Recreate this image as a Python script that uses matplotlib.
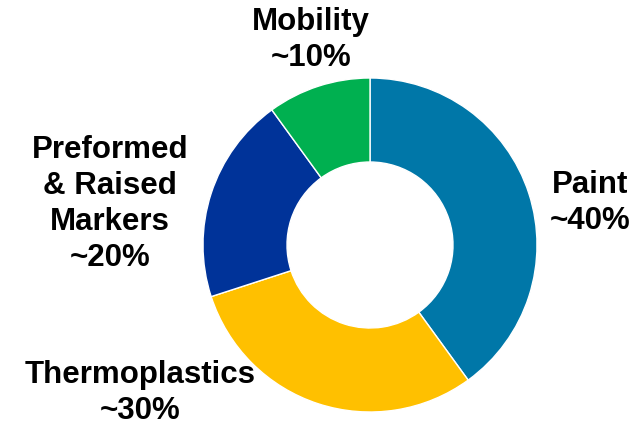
import matplotlib.pyplot as plt

segments = ['Paint', 'Thermoplastics', 'Preformed\n& Raised\nMarkers', 'Mobility']
shares = [40, 30, 20, 10]
colors = ['#0077A8', '#FFC000', '#003399', '#00B050']

plt.rcParams['font.family'] = ['Liberation Sans', 'DejaVu Sans']

fig = plt.figure(figsize=(6.34, 4.26), dpi=100)
ax = fig.add_axes([0, 0, 1, 1])

ax.pie(shares, colors=colors, startangle=90, counterclock=False,
       center=(370, 181), radius=167, frame=True,
       wedgeprops=dict(width=84, edgecolor='white', linewidth=1))
ax.set_xlim(0, 634)
ax.set_ylim(0, 426)
ax.set_aspect('equal')
ax.axis('off')

# label positions in pixel space
label_pos = [(590, 223), (140, 33), (110, 222), (311, 386)]
for name, val, (x, y) in zip(segments, shares, label_pos):
    ax.text(x, y, f'{name}\n~{val}%', ha='center', va='center',
            fontsize=22.5, fontweight='bold', color='black', linespacing=1.26)

fig.savefig('out.png', dpi=100)
